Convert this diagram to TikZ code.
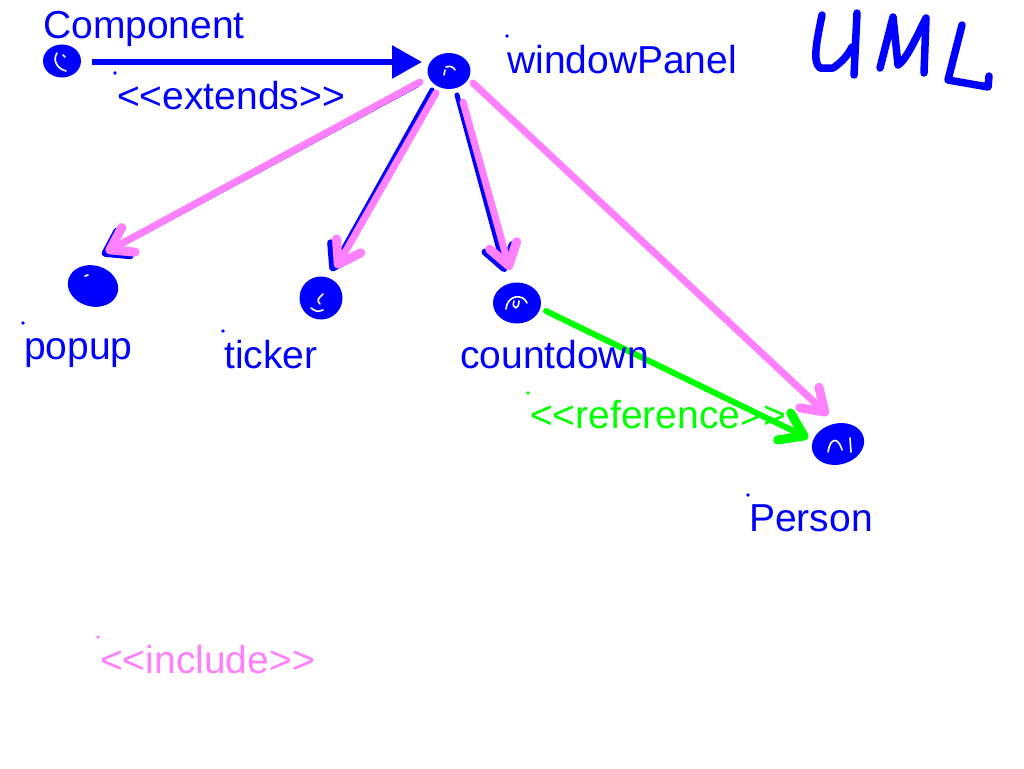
\documentclass[tikz,border=0pt]{standalone}
\usepackage{fontspec}
\setmainfont{Liberation Sans}
\usetikzlibrary{arrows.meta,shapes.geometric}
\definecolor{ublue}{RGB}{0,0,255}
\definecolor{upink}{RGB}{255,128,255}
\definecolor{ugreen}{RGB}{0,255,0}
\begin{document}
\begin{tikzpicture}[x=1pt,y=-1pt,
  dot/.style={ellipse,fill=ublue,inner sep=0pt},
  scrib/.style={draw=white,line width=1.6pt,line cap=round},
  lbl/.style={anchor=base west,inner sep=0pt,font=\fontsize{39}{47}\selectfont},
  pinkline/.style={draw=upink,line width=7pt,line cap=round,-{Straight Barb[length=21pt,width=28pt,round,line width'=9pt]}},
  blueline/.style={draw=ublue,line width=5pt,line cap=round,-{Straight Barb[length=21pt,width=28pt,round,line width'=7pt]}},
  greenline/.style={draw=ugreen,line width=6pt,line cap=round,-{Straight Barb[length=22pt,width=30pt,round,line width'=9pt]}},
  extline/.style={draw=ublue,line width=6pt,-{Triangle[length=30pt,width=32pt]}},
  hand/.style={draw=ublue,line width=7.5pt,line cap=round,line join=round}
]
\useasboundingbox (0,0) rectangle (1024,768);

% nodes (scribbled dots)
\node[dot,minimum width=38pt,minimum height=33pt] (comp) at (62,61) {};
\node[dot,minimum width=43pt,minimum height=36pt] (wp) at (449,71) {};
\node[dot,minimum width=51pt,minimum height=41pt,rotate=-15] (popup) at (93,286) {};
\node[dot,minimum width=43pt,minimum height=43pt] (ticker) at (321,298) {};
\node[dot,minimum width=48pt,minimum height=41pt] (countdown) at (517,303) {};
\node[dot,minimum width=53pt,minimum height=41pt,rotate=15] (person) at (838,444) {};

% white scribble marks inside dots
\draw[scrib] ([shift={(-5,-8)}]comp.center) .. controls ([shift={(-10,0)}]comp.center) and ([shift={(-4,8)}]comp.center) .. ([shift={(4,10)}]comp.center);
\draw[scrib] ([shift={(1,-6)}]comp.center) -- ([shift={(3,-4)}]comp.center);
\draw[scrib] ([shift={(-3,-4)}]wp.center) .. controls ([shift={(2,-6)}]wp.center) and ([shift={(5,-3)}]wp.center) .. ([shift={(6,-1)}]wp.center);
\draw[scrib] ([shift={(-4,-1)}]wp.center) -- ([shift={(-5,4)}]wp.center);
\draw[scrib] ([shift={(-8,-10)}]popup.center) -- ([shift={(-5,-11)}]popup.center);
\draw[scrib] ([shift={(2,-4)}]ticker.center) .. controls ([shift={(-4,2)}]ticker.center) .. ([shift={(-1,6)}]ticker.center);
\draw[scrib] ([shift={(-10,10)}]ticker.center) .. controls ([shift={(-4,14)}]ticker.center) .. ([shift={(2,12)}]ticker.center);
\draw[scrib] ([shift={(-11,6)}]countdown.center) .. controls ([shift={(-10,-8)}]countdown.center) and ([shift={(6,-10)}]countdown.center) .. ([shift={(10,0)}]countdown.center);
\draw[scrib] ([shift={(-3,-2)}]countdown.center) .. controls ([shift={(-6,6)}]countdown.center) and ([shift={(2,8)}]countdown.center) .. ([shift={(2,-2)}]countdown.center);
\draw[scrib] ([shift={(-10,8)}]person.center) .. controls ([shift={(-8,-6)}]person.center) and ([shift={(0,-8)}]person.center) .. ([shift={(4,6)}]person.center);
\draw[scrib] ([shift={(12,-6)}]person.center) -- ([shift={(13,8)}]person.center);

% connectors
\draw[extline] ([shift={(30,1)}]comp.center) -- ([shift={(-27,-9)}]wp.center);

\draw[blueline] ([shift={(-32,14)}]wp.center) -- ([shift={(9,-31)}]popup.center);
\draw[pinkline] ([shift={(-29,11)}]wp.center) -- ([shift={(13,-34)}]popup.center);

\draw[blueline] ([shift={(-17,19)}]wp.center) -- ([shift={(10,-27)}]ticker.center);
\draw[pinkline] ([shift={(-13,22)}]wp.center) -- ([shift={(15,-30)}]ticker.center);

\draw[blueline] ([shift={(8,24)}]wp.center) -- ([shift={(-12,-31)}]countdown.center);
\draw[pinkline] ([shift={(14,31)}]wp.center) -- ([shift={(-7,-33)}]countdown.center);

\draw[pinkline] ([shift={(24,12)}]wp.center) -- ([shift={(-10,-29)}]person.center);

\draw[greenline] ([shift={(29,8)}]countdown.center) -- ([shift={(-30,-6)}]person.center);

% labels
\node[lbl,text=ublue] (tcomp) at (43,38) {Component};
\node[lbl,text=ublue] (text) at (117,109) {<\kern0pt<extends>\kern0pt>};
\node[lbl,text=ublue] (twp) at (507,74) {windowPanel};
\node[lbl,text=ublue] (tpopup) at (24,359) {popup};
\node[lbl,text=ublue] (tticker) at (224,368) {ticker};
\node[lbl,text=ublue] (tcount) at (460,368) {countdown};
\node[lbl,text=ugreen] (tref) at (530,428) {<\kern0pt<reference>\kern0pt>};
\node[lbl,text=ublue] (tperson) at (749,531) {Person};
\node[lbl,text=upink] (tinc) at (100,673) {<\kern0pt<include>\kern0pt>};

% small anchor marks
\fill[ublue] (115,73) circle (1.8);
\fill[ublue] (507,36) circle (1.8);
\fill[ublue] (23,323) circle (1.8);
\fill[ublue] (223,331) circle (1.8);
\fill[ugreen] (528,393) circle (1.8);
\fill[ublue] (748,495) circle (1.8);
\fill[upink] (98,637) circle (1.8);

% handwritten UML
\draw[hand] (822,15) .. controls (817,40) and (812,62) .. (820,68) -- (833,68) .. controls (842,62) and (848,55) .. (852,47);
\draw[hand] (857,13) -- (854,75);
\draw[hand] (880,68) -- (893,17) -- (898,65) .. controls (906,60) and (915,40) .. (926,18) -- (924,73);
\draw[hand] (962,25) -- (948,80) -- (988,87) -- (989,76);
\end{tikzpicture}
\end{document}
